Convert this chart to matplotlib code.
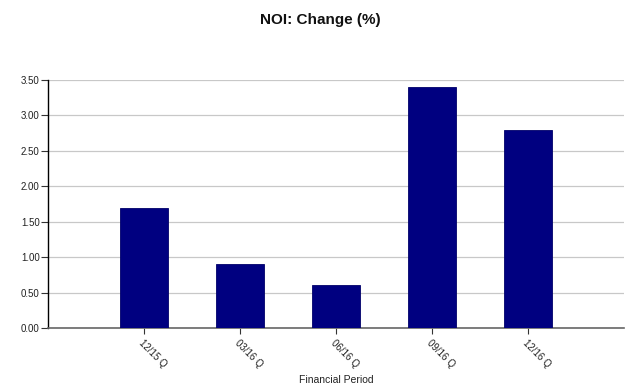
import matplotlib
matplotlib.use("Agg")
import matplotlib.pyplot as plt
import numpy as np

# 数据
periods = ["12/15 Q", "03/16 Q", "06/16 Q", "09/16 Q", "12/16 Q"]
noi_change = [1.70, 0.90, 0.60, 3.40, 2.80]
y_ticks = [0.0, 0.5, 1.0, 1.5, 2.0, 2.5, 3.0, 3.5]

plt.rcParams["font.family"] = ["Liberation Sans", "DejaVu Sans"]

fig = plt.figure(figsize=(6.4, 3.87), dpi=100)
ax = fig.add_axes([0.075, 0.1525, 0.9, 0.6408])

x = np.arange(1, len(periods) + 1)
ax.bar(x, noi_change, width=0.5, color="#000080", edgecolor="#00006a", linewidth=0.6, zorder=3)

ax.set_xlim(0, 6)
ax.set_ylim(0, 3.5)
ax.set_yticks(y_ticks)
ax.set_yticklabels([f"{v:.2f}" for v in y_ticks], fontsize=7, color="#222222")
ax.set_xticks(x)
ax.set_xticklabels(periods, fontsize=7, rotation=-45, ha="left", va="top",
                   rotation_mode="anchor", color="#222222")

ax.grid(axis="y", color="#c8c8c8", linewidth=0.9, zorder=0)
for s in ["top", "right"]:
    ax.spines[s].set_visible(False)
ax.spines["left"].set_color("black")
ax.spines["left"].set_linewidth(1.0)
ax.spines["bottom"].set_color("#666666")
ax.spines["bottom"].set_linewidth(1.2)
ax.tick_params(axis="y", length=5, width=0.8, color="#333333", pad=1)
ax.tick_params(axis="x", length=4, width=0.8, color="#333333", pad=3)

ax.set_xlabel("Financial Period", fontsize=7.5, color="#222222", labelpad=4)
fig.text(0.5, 0.948, "NOI: Change (%)", ha="center", va="center",
         fontsize=11, fontweight="bold", color="#111111")

fig.savefig("out.png", dpi=100)
